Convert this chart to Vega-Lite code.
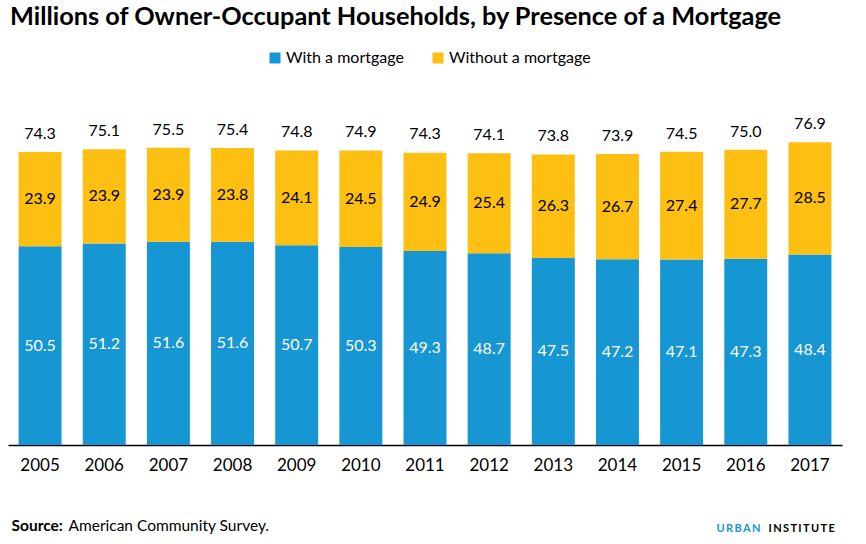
{
  "$schema": "https://vega.github.io/schema/vega-lite/v6.json",
  "width": 834,
  "height": 315,
  "autosize": {"type": "none"},
  "padding": {"left": 8, "top": 130, "right": 24, "bottom": 99},
  "background": "white",
  "title": {
    "text": "Millions of Owner-Occupant Households, by Presence of a Mortgage",
    "anchor": "start",
    "font": "Lato",
    "fontSize": 25.3,
    "fontWeight": "bold",
    "color": "#000000",
    "dx": 2,
    "dy": -16
  },
  "datasets": {
    "segments": [
      {"year": "2005", "type": "With a mortgage", "order": 1, "value": 50.5},
      {"year": "2005", "type": "Without a mortgage", "order": 2, "value": 23.9},
      {"year": "2006", "type": "With a mortgage", "order": 1, "value": 51.2},
      {"year": "2006", "type": "Without a mortgage", "order": 2, "value": 23.9},
      {"year": "2007", "type": "With a mortgage", "order": 1, "value": 51.6},
      {"year": "2007", "type": "Without a mortgage", "order": 2, "value": 23.9},
      {"year": "2008", "type": "With a mortgage", "order": 1, "value": 51.6},
      {"year": "2008", "type": "Without a mortgage", "order": 2, "value": 23.8},
      {"year": "2009", "type": "With a mortgage", "order": 1, "value": 50.7},
      {"year": "2009", "type": "Without a mortgage", "order": 2, "value": 24.1},
      {"year": "2010", "type": "With a mortgage", "order": 1, "value": 50.3},
      {"year": "2010", "type": "Without a mortgage", "order": 2, "value": 24.5},
      {"year": "2011", "type": "With a mortgage", "order": 1, "value": 49.3},
      {"year": "2011", "type": "Without a mortgage", "order": 2, "value": 24.9},
      {"year": "2012", "type": "With a mortgage", "order": 1, "value": 48.7},
      {"year": "2012", "type": "Without a mortgage", "order": 2, "value": 25.4},
      {"year": "2013", "type": "With a mortgage", "order": 1, "value": 47.5},
      {"year": "2013", "type": "Without a mortgage", "order": 2, "value": 26.3},
      {"year": "2014", "type": "With a mortgage", "order": 1, "value": 47.2},
      {"year": "2014", "type": "Without a mortgage", "order": 2, "value": 26.7},
      {"year": "2015", "type": "With a mortgage", "order": 1, "value": 47.1},
      {"year": "2015", "type": "Without a mortgage", "order": 2, "value": 27.4},
      {"year": "2016", "type": "With a mortgage", "order": 1, "value": 47.3},
      {"year": "2016", "type": "Without a mortgage", "order": 2, "value": 27.7},
      {"year": "2017", "type": "With a mortgage", "order": 1, "value": 48.4},
      {"year": "2017", "type": "Without a mortgage", "order": 2, "value": 28.5}
    ],
    "totals": [
      {"year": "2005", "total": 74.3},
      {"year": "2006", "total": 75.1},
      {"year": "2007", "total": 75.5},
      {"year": "2008", "total": 75.4},
      {"year": "2009", "total": 74.8},
      {"year": "2010", "total": 74.9},
      {"year": "2011", "total": 74.3},
      {"year": "2012", "total": 74.1},
      {"year": "2013", "total": 73.8},
      {"year": "2014", "total": 73.9},
      {"year": "2015", "total": 74.5},
      {"year": "2016", "total": 75.0},
      {"year": "2017", "total": 76.9}
    ]
  },
  "layer": [
    {
      "data": {"name": "segments"},
      "mark": {"type": "bar"},
      "encoding": {
        "x": {
          "field": "year",
          "type": "ordinal",
          "scale": {"paddingInner": 0.33, "paddingOuter": 0.165},
          "axis": {
            "orient": "bottom",
            "title": "American Community Survey.",
            "titleFont": "Lato",
            "titleFontSize": 15.5,
            "titleFontWeight": "normal",
            "titleColor": "#000000",
            "titleAlign": "left",
            "titleAnchor": "start",
            "titleBaseline": "alphabetic",
            "titleX": 60,
            "titleY": 85,
            "labelAngle": 0,
            "labelFont": "Lato",
            "labelFontSize": 17,
            "labelColor": "#000000",
            "labelBaseline": "top",
            "labelPadding": 12,
            "ticks": false,
            "domainColor": "#000000",
            "domainWidth": 1.5
          }
        },
        "y": {
          "field": "value",
          "type": "quantitative",
          "stack": "zero",
          "scale": {"domain": [0, 80], "nice": false},
          "axis": {
            "orient": "left",
            "title": "Source:",
            "titleAngle": 0,
            "titleFont": "Lato",
            "titleFontSize": 15.5,
            "titleFontWeight": "bold",
            "titleColor": "#000000",
            "titleAlign": "left",
            "titleBaseline": "alphabetic",
            "titleX": 3,
            "titleY": 400,
            "labels": false,
            "ticks": false,
            "domain": false,
            "grid": false
          }
        },
        "color": {
          "field": "type",
          "type": "nominal",
          "scale": {
            "domain": ["With a mortgage", "Without a mortgage"],
            "range": ["#1696d2", "#fdbf11"]
          },
          "legend": {
            "title": null,
            "orient": "none",
            "direction": "horizontal",
            "legendX": 259,
            "legendY": -80,
            "labelFont": "Lato",
            "labelFontSize": 16,
            "labelColor": "#000000",
            "labelOffset": 3,
            "symbolType": "square",
            "symbolSize": 121,
            "symbolStrokeWidth": 0,
            "symbolOpacity": 1,
            "columnPadding": 26
          }
        },
        "order": {"field": "order", "type": "quantitative"}
      }
    },
    {
      "data": {"name": "totals"},
      "mark": {
        "type": "text",
        "baseline": "alphabetic",
        "dy": -13,
        "font": "Lato",
        "fontSize": 16,
        "color": "#000000"
      },
      "encoding": {
        "x": {
          "field": "year",
          "type": "ordinal",
          "axis": {
            "orient": "top",
            "title": "I\u2009N\u2009S\u2009T\u2009I\u2009T\u2009U\u2009T\u2009E",
            "titleFont": "Lato",
            "titleFontSize": 11,
            "titleFontWeight": "bold",
            "titleColor": "#000000",
            "titleAlign": "left",
            "titleBaseline": "alphabetic",
            "titleX": 760,
            "titleY": 401,
            "labels": false,
            "ticks": false,
            "domain": false,
            "grid": false
          }
        },
        "y": {
          "field": "total",
          "type": "quantitative",
          "axis": {
            "orient": "right",
            "title": "U\u2009R\u2009B\u2009A\u2009N",
            "titleAngle": 0,
            "titleFont": "Lato",
            "titleFontSize": 11,
            "titleFontWeight": "bold",
            "titleColor": "#1696d2",
            "titleAlign": "left",
            "titleBaseline": "alphabetic",
            "titleX": -126,
            "titleY": 401,
            "labels": false,
            "ticks": false,
            "domain": false,
            "grid": false
          }
        },
        "text": {"field": "total", "type": "quantitative", "format": ".1f"}
      }
    },
    {
      "data": {"name": "segments"},
      "transform": [
        {"stack": "value", "groupby": ["year"], "sort": [{"field": "order"}], "as": ["lo", "hi"]},
        {"fold": ["lo", "hi"], "as": ["edge", "pos"]}
      ],
      "mark": {"type": "text", "baseline": "middle", "font": "Lato", "fontSize": 16},
      "encoding": {
        "x": {"field": "year", "type": "ordinal", "axis": null},
        "y": {"aggregate": "mean", "field": "pos", "type": "quantitative", "axis": null},
        "detail": {"field": "type", "type": "nominal"},
        "text": {"field": "value", "type": "quantitative", "format": ".1f"},
        "color": {
          "condition": {"test": "datum.type === 'With a mortgage'", "value": "#ffffff"},
          "value": "#000000"
        }
      }
    }
  ],
  "resolve": {"axis": {"x": "independent", "y": "independent"}},
  "config": {
    "view": {"stroke": null},
    "font": "Lato",
    "axis": {"grid": false}
  }
}
